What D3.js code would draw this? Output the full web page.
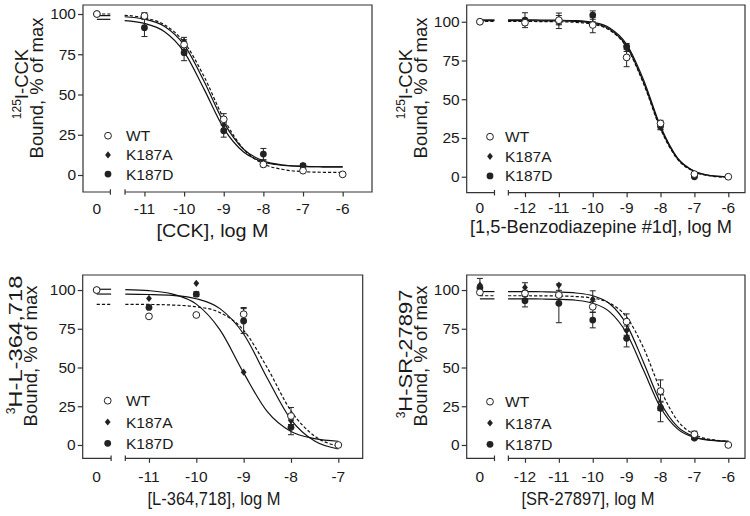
<!DOCTYPE html>
<html>
<head>
<meta charset="utf-8">
<script src="https://cdn.jsdelivr.net/npm/d3@7"></script>
<style>
body { margin: 0; background: #fff; }
svg text { font-family: "Liberation Sans", Arial, sans-serif; fill: #1a1a1a; }
</style>
</head>
<body>
<svg width="750" height="516"></svg>
<script>
const seriesNames = ["WT", "K187A", "K187D"];
const yTicks = [0, 25, 50, 75, 100];

// ---- CCK ----
const cckTicks = [-11, -10, -9, -8, -7, -6];
const cckWT_x = [0, -11, -10, -9, -8, -7, -6];
const cckWT_y = [100, 98.8, 81, 34.6, 6.6, 2.7, 0.4];
const cckWT_e = [0, 2, 3, 3.5, 1.5, 1, 0];
const cckA_x = [0, -11, -10, -9, -8, -7];
const cckA_y = [100, 98.5, 83, 31, 7.7, 5.8];
const cckA_e = [0, 1.5, 2.5, 3, 1.5, 1];
const cckD_x = [0, -11, -10, -9, -8, -7];
const cckD_y = [100, 91.5, 76, 27.5, 13, 5.8];
const cckD_e = [0, 5.5, 5, 4, 3.5, 1];
const cckFitX = [-11.5, -11, -10.5, -10, -9.5, -9, -8.5, -8, -7.5, -7, -6.5, -6];
const cckFitWT = [99.2, 97.6, 93.4, 82.5, 61.4, 35.1, 16.1, 6.9, 3.4, 2.1, 1.7, 1.6];
const cckFitA = [98.3, 96.8, 92.4, 80.8, 58.4, 32.7, 16.0, 8.8, 6.2, 5.4, 5.1, 5.0];
const cckFitD = [95.9, 94.2, 89.2, 76.5, 53.5, 29.0, 14.3, 8.1, 6.0, 5.3, 5.1, 5.0];
const cckTop = [100, 99, 96.7];

// ---- 1,5-Benzodiazepine #1d ----
const bzTicks = [-12, -11, -10, -9, -8, -7, -6];
const bzWT_x = [0, -12, -11, -10, -9, -8, -7, -6];
const bzWT_y = [100, 99.4, 101, 97.9, 77, 34.4, 1.7, 0];
const bzWT_e = [0, 1.5, 3, 5, 6, 2, 1, 0];
const bzA_x = [0, -12, -11, -10, -9, -8, -7];
const bzA_y = [100, 100.5, 99.6, 99, 82.8, 31.8, 0.4];
const bzA_e = [0, 1, 1, 1, 2, 1.5, 0.5];
const bzD_x = [0, -12, -11, -10, -9, -8, -7];
const bzD_y = [100, 101, 100.6, 104.3, 84, 32.7, 0];
const bzD_e = [0, 4.8, 5, 2.7, 2, 2, 0.5];
const bzFitX = [-12.5, -12, -11.5, -11, -10.5, -10, -9.5, -9, -8.5, -8, -7.5, -7, -6.5, -6];
const bzFitWT = [100.2, 100.2, 100.1, 100.0, 99.6, 98.4, 94.5, 83.6, 60.0, 30.8, 11.3, 3.2, 0.4, -0.4];
const bzFitA = [100.7, 100.7, 100.6, 100.5, 100.2, 99.0, 95.2, 84.3, 60.9, 31.4, 11.7, 3.5, 0.7, -0.1];
const bzFitD = [101.2, 101.2, 101.1, 101.0, 100.7, 99.6, 96.0, 85.5, 62.5, 32.5, 12.2, 3.6, 0.7, -0.1];
const bzTop = [100.2, 100.7, 101.2];

// ---- L-364,718 ----
const lTicks = [-11, -10, -9, -8, -7];
const lWT_x = [0, -11, -10, -9, -8, -7];
const lWT_y = [100, 83, 83.9, 84.4, 18.7, 0];
const lWT_e = [0, 0, 0, 4.3, 5.5, 0];
const lA_x = [0, -11, -10, -9, -8];
const lA_y = [100, 94.6, 104.3, 47, 15.7];
const lA_e = [0, 0, 0, 0, 0];
const lD_x = [0, -11, -10, -9, -8];
const lD_y = [100, 88.8, 97.3, 80, 11.4];
const lD_e = [0, 0, 1.5, 8, 4.8];
const lFitX = [-11.5, -11, -10.5, -10, -9.5, -9, -8.5, -8, -7.5, -7];
const lFitWT = [90.8, 90.7, 90.3, 89.2, 85.4, 74.0, 49.8, 22.0, 5.7, -0.8];
const lFitA = [100.2, 99.6, 97.4, 90.9, 74.3, 46.5, 21.5, 8.7, 4.1, 2.4];
const lFitD = [97.3, 97.1, 96.5, 94.4, 88.0, 71.6, 43.1, 16.4, 2.5, -2.6];
const lTop = [90.8, 100.5, 97.4];

// ---- SR-27897 ----
const srTicks = [-12, -11, -10, -9, -8, -7, -6];
const srWT_x = [0, -12, -11, -10, -9, -8, -7, -6];
const srWT_y = [98.5, 97.8, 96.8, 89.2, 79.6, 34.8, 6.9, 0];
const srWT_e = [0, 2, 3, 3.5, 5, 7.2, 2, 0];
const srA_x = [0, -12, -11, -10, -9, -8, -7];
const srA_y = [103.2, 101.7, 103.2, 94, 73.8, 25.2, 4.7];
const srA_e = [4.3, 3, 0, 5.5, 3, 3, 1];
const srD_x = [0, -12, -11, -10, -9, -8, -7];
const srD_y = [101.5, 93.1, 91.4, 80.6, 68.8, 23.7, 4.5];
const srD_e = [0, 4, 12.5, 5, 5.5, 8.7, 1];
const srFitX = [-12.5, -12, -11.5, -11, -10.5, -10, -9.5, -9, -8.5, -8, -7.5, -7, -6.5, -6];
const srFitWT = [96.3, 96.3, 96.25, 96.15, 95.8, 94.8, 91.5, 82.5, 62.6, 35.7, 15.8, 6.8, 3.5, 2.5];
const srFitA = [99.0, 99.0, 98.9, 98.7, 98.1, 96.3, 91.1, 77.7, 53.3, 27.4, 11.8, 5.3, 3.1, 2.3];
const srFitD = [94.3, 94.3, 94.2, 94.0, 93.4, 91.5, 85.9, 72.1, 48.2, 24.2, 10.4, 4.8, 2.9, 2.3];
const srTop = [96.3, 99.0, 94.3];

const svg = d3.select("svg");

function zip(xs, ys, es) {
    return xs.map((x, i) => ({ x: x, y: ys[i], e: es ? es[i] : 0 }));
}

const panels = [
    {
        box: [83, 372, 5, 192], xd: [-12.55, -5.26], yd: [-10.56, 105.6],
        zero: -12.2, brk: [-11.86, -11.49], ticks: cckTicks,
        pts: [zip(cckWT_x, cckWT_y, cckWT_e), zip(cckA_x, cckA_y, cckA_e), zip(cckD_x, cckD_y, cckD_e)],
        fitX: cckFitX, fits: [cckFitWT, cckFitA, cckFitD], tops: cckTop,
        sup: "125", ylab1: "I-CCK", lab1Len: null, xlab: "[CCK], log M", xlabLen: 112,
        ylabX: [28, 43], ylabY: [84, 88], xlabPos: [212.5, 237], tickY: 214,
        legend: [108, 126, 135.7, 19.2]
    },
    {
        box: [466.7, 745, 5, 192.7], xd: [-13.72, -5.507], yd: [-10.3, 110.8],
        zero: -13.33, brk: [-12.9, -12.49], ticks: bzTicks,
        pts: [zip(bzWT_x, bzWT_y, bzWT_e), zip(bzA_x, bzA_y, bzA_e), zip(bzD_x, bzD_y, bzD_e)],
        fitX: bzFitX, fits: [bzFitWT, bzFitA, bzFitD], tops: bzTop,
        sup: "125", ylab1: "I-CCK", lab1Len: null, xlab: "[1,5-Benzodiazepine #1d], log M", xlabLen: 262,
        ylabX: [411.5, 426.5], ylabY: [84, 88], xlabPos: [601, 233], tickY: 213,
        legend: [490, 505, 136.7, 19.6]
    },
    {
        box: [82.7, 362.7, 275, 458.3], xd: [-12.4, -6.485], yd: [-8.6, 109.7],
        zero: -12.105, brk: [-11.8, -11.5], ticks: lTicks,
        pts: [zip(lWT_x, lWT_y, lWT_e), zip(lA_x, lA_y, lA_e), zip(lD_x, lD_y, lD_e)],
        fitX: lFitX, fits: [lFitWT, lFitA, lFitD], tops: lTop,
        sup: "3", ylab1: "H-L-364,718", lab1Len: 132, xlab: "[L-364,718], log M", xlabLen: 133,
        ylabX: [22, 36.5], ylabY: [345, 356], xlabPos: [214, 505], tickY: 482,
        legend: [107.7, 126, 400.7, 21.3]
    },
    {
        box: [466.7, 745, 275, 458.3], xd: [-13.72, -5.507], yd: [-8.6, 109.7],
        zero: -13.33, brk: [-12.9, -12.49], ticks: srTicks,
        pts: [zip(srWT_x, srWT_y, srWT_e), zip(srA_x, srA_y, srA_e), zip(srD_x, srD_y, srD_e)],
        fitX: srFitX, fits: [srFitWT, srFitA, srFitD], tops: srTop,
        sup: "3", ylab1: "H-SR-27897", lab1Len: 122, xlab: "[SR-27897], log M", xlabLen: 133,
        ylabX: [411.5, 427], ylabY: [354, 356], xlabPos: [588, 505], tickY: 482,
        legend: [490, 505, 401.7, 21.3]
    }
];

const ink = "#222";

function drawMarker(g, kind, cx, cy) {
    if (kind === 0) {
        g.append("circle").attr("cx", cx).attr("cy", cy).attr("r", 3.4)
            .attr("fill", "#fff").attr("stroke", ink).attr("stroke-width", 1);
    } else if (kind === 1) {
        g.append("path").attr("transform", `translate(${cx},${cy})`)
            .attr("d", "M0,-3.6L2.9,0L0,3.6L-2.9,0Z").attr("fill", ink);
    } else {
        g.append("circle").attr("cx", cx).attr("cy", cy).attr("r", 3.4).attr("fill", ink);
    }
}

panels.forEach(function (p) {
    const [x0, x1, y0, y1] = p.box;
    const x = d3.scaleLinear().domain(p.xd).range([x0, x1]);
    const y = d3.scaleLinear().domain(p.yd).range([y1, y0]);
    const px = d => d === 0 ? x(p.zero) : x(d);
    const g = svg.append("g");

    // frame with broken bottom axis
    const bA = x(p.brk[0]), bB = x(p.brk[1]);
    g.append("path")
        .attr("d", `M${bB},${y1}L${x1},${y1}L${x1},${y0}L${x0},${y0}L${x0},${y1}L${bA},${y1}`)
        .attr("fill", "none").attr("stroke", "#333").attr("stroke-width", 1.2);
    [bA, bB].forEach(bx => {
        g.append("line").attr("x1", bx).attr("x2", bx).attr("y1", y1 - 2.8).attr("y2", y1 + 2.8)
            .attr("stroke", "#333").attr("stroke-width", 1.2);
    });

    // y axis
    const ya = g.append("g").attr("transform", `translate(${x0},0)`)
        .call(d3.axisLeft(y).tickValues(yTicks).tickSize(5).tickPadding(2));
    ya.select(".domain").remove();
    ya.selectAll("line").attr("stroke", "#333").attr("stroke-width", 1.2);
    ya.selectAll("text").style("font-size", "15.5px").style("font-family", "Liberation Sans, Arial, sans-serif").attr("fill", ink);

    // x axis
    const xa = g.append("g").attr("transform", `translate(0,${y1})`)
        .call(d3.axisBottom(x).tickValues(p.ticks).tickSize(4.5).tickPadding(4)
            .tickFormat(d => "-" + Math.abs(d)));
    xa.select(".domain").remove();
    xa.selectAll("line").attr("stroke", "#333").attr("stroke-width", 1.2);
    xa.selectAll("text").remove();
    p.ticks.concat([0]).forEach(t => {
        g.append("text").attr("x", px(t)).attr("y", p.tickY).attr("text-anchor", "middle")
            .style("font-size", "15.5px").text(t === 0 ? "0" : "-" + Math.abs(t));
    });

    // fitted curves
    const line = d3.line().x(d => x(d[0])).y(d => y(d[1])).curve(d3.curveMonotoneX);
    p.fits.forEach((f, i) => {
        const dash = i === 0 ? "3.2,2" : null;
        g.append("path").datum(p.fitX.map((v, j) => [v, f[j]]))
            .attr("d", line).attr("fill", "none").attr("stroke", "#111")
            .attr("stroke-width", 1.2).attr("stroke-dasharray", dash);
        g.append("line").attr("x1", x(p.zero)).attr("x2", bA)
            .attr("y1", y(p.tops[i])).attr("y2", y(p.tops[i]))
            .attr("stroke", "#111").attr("stroke-width", 1.2).attr("stroke-dasharray", dash);
    });

    // error bars and points: K187D, K187A, then WT on top
    [2, 1, 0].forEach(k => {
        p.pts[k].forEach(d => {
            if (d.e > 0) {
                const cx = px(d.x), ya1 = y(d.y - d.e), ya2 = y(d.y + d.e);
                g.append("path")
                    .attr("d", `M${cx},${ya1}L${cx},${ya2}M${cx - 3},${ya1}L${cx + 3},${ya1}M${cx - 3},${ya2}L${cx + 3},${ya2}`)
                    .attr("stroke", ink).attr("stroke-width", 1).attr("fill", "none");
            }
        });
    });
    [2, 1, 0].forEach(k => {
        p.pts[k].forEach(d => drawMarker(g, k, px(d.x), y(d.y)));
    });

    // legend
    const [lx, tx, ly, dy] = p.legend;
    seriesNames.forEach((name, i) => {
        drawMarker(g, i, lx, ly + i * dy);
        g.append("text").attr("x", tx).attr("y", ly + i * dy + 5.5)
            .style("font-size", "15.5px").text(name);
    });

    // axis titles
    g.append("text").attr("x", p.xlabPos[0]).attr("y", p.xlabPos[1]).attr("text-anchor", "middle")
        .attr("textLength", p.xlabLen).attr("lengthAdjust", "spacingAndGlyphs")
        .style("font-size", "18.5px").text(p.xlab);
    const t1 = g.append("text").attr("transform", `translate(${p.ylabX[0]},${p.ylabY[0]}) rotate(-90)`)
        .attr("text-anchor", "middle").style("font-size", "18.5px");
    t1.append("tspan").style("font-size", "12px").attr("dy", -7).text(p.sup);
    const main1 = t1.append("tspan").attr("dy", 7).text(p.ylab1);
    if (p.lab1Len) main1.attr("textLength", p.lab1Len).attr("lengthAdjust", "spacingAndGlyphs");
    g.append("text").attr("transform", `translate(${p.ylabX[1]},${p.ylabY[1]}) rotate(-90)`)
        .attr("text-anchor", "middle").style("font-size", "18.5px").text("Bound, % of max");
});
</script>
</body>
</html>
